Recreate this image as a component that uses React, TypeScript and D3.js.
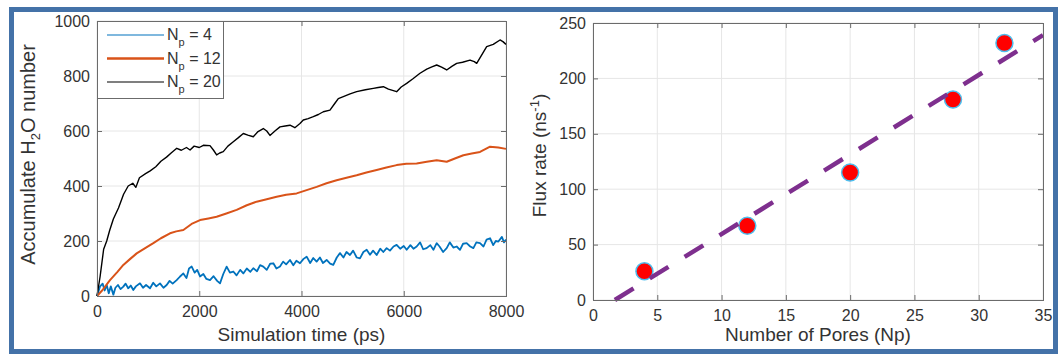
import React, { useEffect, useRef } from "react";
import * as d3 from "d3";

// Left panel: accumulated water count vs simulation time (ps)
const np4Series = [
  [0, 0], [60, 35], [110, 45], [150, 20], [190, 40], [230, 10], [270, 35], [320, 5], [360, 30], [410, 40],
  [460, 25], [515, 34], [560, 45], [610, 28], [660, 38], [710, 22], [760, 35], [841, 46], [900, 30], [960, 40],
  [1037, 28], [1100, 48], [1160, 35], [1232, 46], [1300, 30], [1363, 40], [1420, 55], [1480, 45], [1558, 58],
  [1620, 70], [1689, 82], [1750, 65], [1800, 100], [1852, 107], [1910, 85], [1960, 95], [2015, 71], [2080, 80],
  [2140, 62], [2210, 58], [2280, 72], [2350, 55], [2406, 46], [2470, 80], [2536, 107], [2600, 85], [2666, 89],
  [2730, 75], [2800, 95], [2862, 82], [2930, 100], [3000, 88], [3057, 101], [3130, 90], [3190, 112], [3253, 107],
  [3320, 95], [3390, 118], [3449, 119], [3510, 100], [3579, 107], [3640, 125], [3700, 115], [3775, 131],
  [3840, 112], [3900, 128], [3970, 119], [4040, 135], [4101, 143], [4170, 120], [4230, 138], [4296, 125],
  [4360, 140], [4420, 120], [4492, 131], [4560, 118], [4622, 113], [4690, 140], [4753, 156], [4820, 140],
  [4880, 160], [4948, 149], [5010, 165], [5080, 140], [5144, 137], [5210, 160], [5275, 168], [5340, 150],
  [5400, 165], [5470, 149], [5540, 172], [5600, 160], [5666, 174], [5730, 165], [5800, 180], [5861, 186],
  [5930, 172], [6000, 182], [6057, 168], [6130, 185], [6190, 172], [6253, 180], [6320, 195], [6380, 170],
  [6448, 174], [6520, 185], [6580, 168], [6644, 192], [6700, 180], [6770, 160], [6840, 174], [6900, 195],
  [6970, 176], [7035, 180], [7100, 168], [7160, 190], [7231, 192], [7300, 180], [7362, 174], [7420, 195],
  [7492, 192], [7560, 180], [7620, 205], [7688, 210], [7750, 185], [7800, 200], [7851, 198], [7920, 215],
  [7960, 195], [8000, 205],
];

const np12Series = [
  [0, 0], [100, 20], [254, 58], [400, 88], [515, 113], [650, 135], [776, 155], [950, 175], [1102, 192],
  [1250, 210], [1428, 228], [1550, 235], [1689, 240], [1850, 262], [2015, 276], [2180, 282], [2340, 288],
  [2530, 300], [2731, 313], [2930, 330], [3122, 343], [3320, 352], [3514, 361], [3700, 368], [3905, 373],
  [4100, 385], [4296, 397], [4490, 410], [4687, 421], [4880, 430], [5079, 439], [5270, 449], [5470, 458],
  [5660, 467], [5861, 476], [6050, 481], [6252, 482], [6450, 488], [6644, 494], [6840, 488], [7000, 500],
  [7166, 512], [7330, 518], [7492, 524], [7688, 543], [7850, 540], [8000, 535],
];

const np20Series = [
  [0, 0], [60, 70], [130, 170], [190, 200], [250, 240], [320, 280], [420, 320], [520, 370], [610, 400],
  [700, 410], [760, 395], [830, 430], [950, 445], [1040, 455], [1150, 470], [1250, 490], [1360, 505],
  [1450, 520], [1560, 537], [1650, 530], [1750, 540], [1820, 531], [1900, 545], [2000, 540], [2080, 548],
  [2210, 547], [2280, 530], [2340, 513], [2400, 520], [2470, 525], [2560, 545], [2666, 561], [2760, 575],
  [2862, 591], [2950, 585], [3057, 579], [3150, 598], [3253, 609], [3320, 600], [3383, 584], [3480, 600],
  [3579, 615], [3680, 618], [3775, 621], [3870, 612], [3970, 627], [4035, 640], [4130, 645], [4231, 652],
  [4330, 660], [4427, 670], [4557, 676], [4650, 700], [4720, 718], [4818, 725], [4950, 735], [5079, 743],
  [5250, 750], [5405, 755], [5500, 758], [5601, 761], [5700, 752], [5861, 743], [5950, 760], [6057, 773],
  [6180, 790], [6318, 810], [6450, 825], [6550, 833], [6644, 840], [6740, 832], [6840, 822], [6940, 835],
  [7035, 846], [7150, 850], [7296, 858], [7380, 852], [7427, 846], [7520, 875], [7622, 907], [7750, 915],
  [7883, 931], [7940, 925], [8000, 915],
];

const seriesPores = ["4", "12", "20"];
const seriesColors = ["#0072BD", "#D95319", "#000000"];
const seriesWidths = [1.8, 2, 1.4];

// Right panel: flux rate vs number of pores
const poreCounts = [4, 12, 20, 28, 32];
const fluxRates = [26, 67, 115, 181, 232];
const fitPores = [1.7, 35];
const fitFlux = [0, 239];

const timeTicks = [0, 2000, 4000, 6000, 8000];
const countTicks = [0, 200, 400, 600, 800, 1000];
const poreTicks = [0, 5, 10, 15, 20, 25, 30, 35];
const fluxTicks = [0, 50, 100, 150, 200, 250];

const FONT = "'Liberation Sans', Arial, Helvetica, sans-serif";
const TEXT = "#333333";
const BOX = "#6b6b6b";
const GRID = "#e6e6e6";

function drawFrame(g, x, y, xTicks, yTicks) {
  const [x0, x1] = x.range();
  const [y0, y1] = y.range();

  g.append("rect")
    .attr("x", x0).attr("y", y1)
    .attr("width", x1 - x0).attr("height", y0 - y1)
    .attr("fill", "#fff");

  g.append("g").selectAll("line").data(xTicks).join("line")
    .attr("x1", (d) => x(d)).attr("x2", (d) => x(d))
    .attr("y1", y0).attr("y2", y1)
    .attr("stroke", GRID);
  g.append("g").selectAll("line").data(yTicks).join("line")
    .attr("x1", x0).attr("x2", x1)
    .attr("y1", (d) => y(d)).attr("y2", (d) => y(d))
    .attr("stroke", GRID);
}

function drawAxes(g, x, y, xTicks, yTicks) {
  const [x0, x1] = x.range();
  const [y0, y1] = y.range();
  const fmt = d3.format("d");
  const style = (sel) => {
    sel.select(".domain").remove();
    sel.selectAll("line").attr("stroke", BOX);
    sel.selectAll("text").attr("fill", TEXT).style("font-size", "16px").style("font-family", FONT);
    sel.attr("font-family", null).attr("font-size", null);
  };

  g.append("g").attr("transform", `translate(0,${y0})`)
    .call(d3.axisBottom(x).tickValues(xTicks).tickFormat(fmt).tickSize(-5).tickPadding(10)).call(style);
  g.append("g").attr("transform", `translate(${x0},0)`)
    .call(d3.axisLeft(y).tickValues(yTicks).tickFormat(fmt).tickSize(-5).tickPadding(7)).call(style);
  g.append("g").attr("transform", `translate(0,${y1})`)
    .call(d3.axisTop(x).tickValues(xTicks).tickSize(-5).tickFormat(() => "")).call(style);
  g.append("g").attr("transform", `translate(${x1},0)`)
    .call(d3.axisRight(y).tickValues(yTicks).tickSize(-5).tickFormat(() => "")).call(style);

  g.append("rect")
    .attr("x", x0 + 0.5).attr("y", y1 + 0.5)
    .attr("width", x1 - x0).attr("height", y0 - y1)
    .attr("fill", "none").attr("stroke", BOX);
}

function App() {
  const svgRef = useRef(null);
  const width = 1059;
  const height = 354;

  useEffect(() => {
    const svg = d3.select(svgRef.current);
    svg.selectAll("*").remove();
    svg.style("font-family", FONT);

    svg.append("rect").attr("width", width).attr("height", height).attr("fill", "#fff");

    // ---- left panel ----
    const xT = d3.scaleLinear().domain([0, 8000]).range([97, 506]);
    const yN = d3.scaleLinear().domain([0, 1000]).range([296, 21]);
    const left = svg.append("g");
    drawFrame(left, xT, yN, timeTicks, countTicks);

    const line = d3.line().x((d) => xT(d[0])).y((d) => yN(d[1]));
    const allSeries = [np4Series, np12Series, np20Series];
    left.append("g").selectAll("path").data(allSeries).join("path")
      .attr("d", (d) => line(d))
      .attr("fill", "none")
      .attr("stroke", (d, i) => seriesColors[i])
      .attr("stroke-width", (d, i) => seriesWidths[i])
      .attr("stroke-linejoin", "round");

    drawAxes(left, xT, yN, timeTicks, countTicks);

    // legend
    const lg = left.append("g");
    lg.append("rect").attr("x", 97.5).attr("y", 21.5).attr("width", 126).attr("height", 77)
      .attr("fill", "#fff").attr("stroke", BOX);
    const rowY = [35, 58.5, 82];
    seriesPores.forEach((p, i) => {
      lg.append("line")
        .attr("x1", 107).attr("x2", 164)
        .attr("y1", rowY[i]).attr("y2", rowY[i])
        .attr("stroke", seriesColors[i])
        .attr("stroke-width", i === 1 ? 2.5 : 1.2);
      const t = lg.append("text").attr("x", 167).attr("y", rowY[i] + 5)
        .attr("fill", TEXT).style("font-size", "16px");
      t.append("tspan").text("N");
      t.append("tspan").attr("dy", 6).style("font-size", "11px").text("p");
      t.append("tspan").attr("dy", -6).text(` = ${p}`);
    });

    // axis titles
    left.append("text")
      .attr("x", xT(4000)).attr("y", 341)
      .attr("text-anchor", "middle").attr("fill", TEXT)
      .style("font-size", "19px")
      .text("Simulation time (ps)");
    const yl = left.append("text")
      .attr("transform", `translate(35,${(296 + 21) / 2 - 4})rotate(-90)`)
      .attr("text-anchor", "middle").attr("fill", TEXT)
      .style("font-size", "20px");
    yl.append("tspan").text("Accumulate H");
    yl.append("tspan").attr("dy", 5).style("font-size", "13px").text("2");
    yl.append("tspan").attr("dy", -5).text("O number");

    // ---- right panel ----
    const xP = d3.scaleLinear().domain([0, 35]).range([593, 1043]);
    const yF = d3.scaleLinear().domain([0, 250]).range([300, 23]);
    const right = svg.append("g");
    drawFrame(right, xP, yF, poreTicks, fluxTicks);

    right.append("g").selectAll("circle").data(poreCounts).join("circle")
      .attr("cx", (d) => xP(d))
      .attr("cy", (d, i) => yF(fluxRates[i]))
      .attr("r", 8.5)
      .attr("fill", "#ff0000")
      .attr("stroke", "#4DBEEE")
      .attr("stroke-width", 1.5);

    right.append("path")
      .datum(fitPores.map((p, i) => [p, fitFlux[i]]))
      .attr("d", d3.line().x((d) => xP(d[0])).y((d) => yF(d[1])))
      .attr("fill", "none")
      .attr("stroke", "#7E2F8E")
      .attr("stroke-width", 4.5)
      .attr("stroke-dasharray", "22,19");

    drawAxes(right, xP, yF, poreTicks, fluxTicks);

    right.append("text")
      .attr("x", xP(17.5)).attr("y", 341)
      .attr("text-anchor", "middle").attr("fill", TEXT)
      .style("font-size", "19px")
      .text("Number of Pores (Np)");
    const fl = right.append("text")
      .attr("transform", `translate(546,${(300 + 23) / 2 - 6})rotate(-90)`)
      .attr("text-anchor", "middle").attr("fill", TEXT)
      .style("font-size", "19px");
    fl.append("tspan").text("Flux rate (ns");
    fl.append("tspan").attr("dy", -7).style("font-size", "13px").text("-1");
    fl.append("tspan").attr("dy", 7).text(")");

    // outer blue frame
    svg.append("rect")
      .attr("x", 11.5).attr("y", 9.5)
      .attr("width", 1044).attr("height", 342)
      .attr("fill", "none")
      .attr("stroke", "#4472A8")
      .attr("stroke-width", 5);
  }, []);

  return (
    <div style={{ position: "absolute", left: 0, top: 0 }}>
      <svg ref={svgRef} width={width} height={height}></svg>
    </div>
  );
}

export default App;
